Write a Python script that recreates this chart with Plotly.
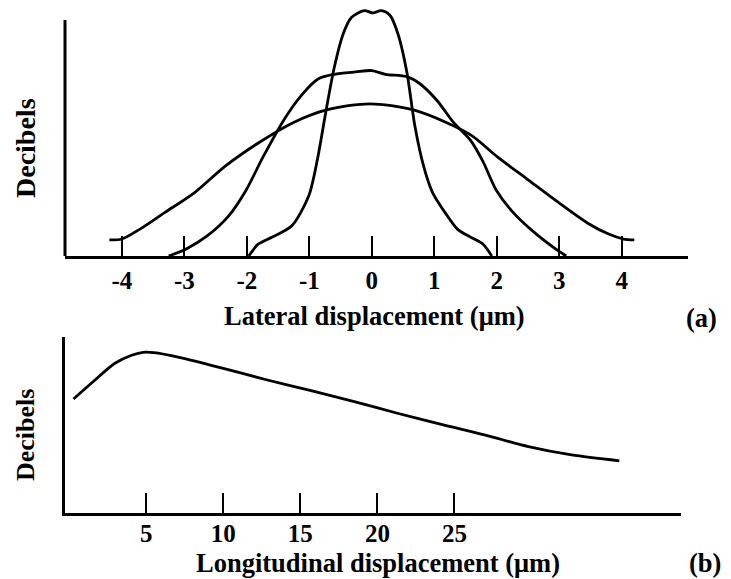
import plotly.graph_objects as go

W, H = 731, 579

# ---------------- data ----------------
lat_tickvals = [-4, -3, -2, -1, 0, 1, 2, 3, 4]
lat_ticktext = ["-4", "-3", "-2", "-1", "0", "1", "2", "3", "4"]

narrow_x = [-1.97, -1.9, -1.82, -1.55, -1.28, -1.01, -0.87, -0.73, -0.6, -0.46, -0.33,
            -0.12, 0.02, 0.15, 0.29, 0.42, 0.56, 0.69, 0.83, 0.97, 1.17, 1.37, 1.58, 1.78, 1.92]
narrow_y = [0.0, 0.025, 0.05, 0.086, 0.128, 0.254, 0.41, 0.62, 0.80, 0.94, 1.01,
            1.04, 1.03, 1.04, 1.02, 0.94, 0.78, 0.55, 0.38, 0.27, 0.185, 0.114, 0.08, 0.05, 0.0]

medium_x = [-3.25, -2.97, -2.63, -2.29, -2.01, -1.74, -1.40, -1.13, -0.86, -0.6, -0.26, 0.0,
            0.22, 0.56, 0.77, 1.04, 1.31, 1.58, 1.78, 1.99, 2.26, 2.6, 2.94, 3.11]
medium_y = [0.0, 0.03, 0.086, 0.17, 0.28, 0.42, 0.58, 0.68, 0.75, 0.77, 0.78, 0.786,
            0.77, 0.76, 0.73, 0.66, 0.565, 0.49, 0.40, 0.28, 0.185, 0.10, 0.03, 0.0]

wide_x = [-4.2, -4.0, -3.71, -3.31, -2.83, -2.35, -1.81, -1.26, -0.71, -0.03, 0.65, 1.2,
          1.6, 2.01, 2.49, 2.97, 3.45, 3.79, 4.03, 4.2]
wide_y = [0.068, 0.072, 0.114, 0.185, 0.27, 0.38, 0.48, 0.565, 0.62, 0.645, 0.62, 0.565,
          0.51, 0.42, 0.325, 0.23, 0.14, 0.093, 0.072, 0.068]

lon_tickvals = [5, 10, 15, 20, 25]
lon_x = [0.28, 1.55, 2.97, 4.1, 4.8, 5.5, 7.2, 10.0, 12.86, 15.7, 18.5, 21.3, 24.15,
         27.0, 29.8, 32.6, 35.7]
lon_y = [0.646, 0.744, 0.849, 0.896, 0.911, 0.909, 0.881, 0.82, 0.754, 0.693, 0.631,
         0.565, 0.502, 0.441, 0.375, 0.328, 0.295]

FONT = "Liberation Serif"
LINE = dict(color="black", width=2.8, shape="spline", smoothing=0.8)

fig = go.Figure()
for xs, ys in [(wide_x, wide_y), (medium_x, medium_y), (narrow_x, narrow_y)]:
    fig.add_trace(go.Scatter(x=xs, y=ys, mode="lines", line=LINE,
                             xaxis="x", yaxis="y", showlegend=False, hoverinfo="skip"))
fig.add_trace(go.Scatter(x=lon_x, y=lon_y, mode="lines", line=LINE,
                         xaxis="x2", yaxis="y2", showlegend=False, hoverinfo="skip"))

tickfont = dict(family=FONT, size=25, color="black", weight="bold")

fig.update_layout(
    width=W, height=H,
    margin=dict(l=0, r=0, t=0, b=0),
    paper_bgcolor="white", plot_bgcolor="white",
    xaxis=dict(domain=[65 / W, 688 / W], range=[-4.91, 5.06], anchor="y",
               showline=True, linewidth=3, linecolor="black",
               ticks="inside", ticklen=20, tickwidth=1.5, tickcolor="black",
               tickvals=lat_tickvals, ticktext=lat_ticktext, tickfont=tickfont,
               ticklabelstandoff=0,
               showgrid=False, zeroline=False, automargin=False),
    yaxis=dict(domain=[1 - 256 / H, 1 - 8 / H], range=[0, 1.051], anchor="x",
               showline=False, showticklabels=False, ticks="",
               showgrid=False, zeroline=False, automargin=False),
    xaxis2=dict(domain=[65 / W, 681 / W], range=[-0.27, 39.7], anchor="y2",
                showline=True, linewidth=3, linecolor="black",
                ticks="inside", ticklen=20, tickwidth=1.5, tickcolor="black",
                tickvals=lon_tickvals, tickfont=tickfont,
                ticklabelstandoff=-4,
                showgrid=False, zeroline=False, automargin=False),
    yaxis2=dict(domain=[1 - 512.7 / H, 1 - 336.7 / H], range=[0, 1], anchor="x2",
                showline=True, linewidth=3, linecolor="black",
                showticklabels=False, ticks="",
                showgrid=False, zeroline=False, automargin=False),
    shapes=[dict(type="line", xref="x domain", yref="y", x0=0, x1=0, y0=0, y1=1,
                 line=dict(color="black", width=3))],
)

title_font = dict(family=FONT, size=26.5, color="black", weight="bold")
annots = [
    dict(text="Lateral displacement (μm)", x=375 / W, y=1 - 316 / H),
    dict(text="(a)", x=701 / W, y=1 - 318 / H),
    dict(text="Longitudinal displacement (μm)", x=378 / W, y=1 - 563 / H),
    dict(text="(b)", x=705 / W, y=1 - 563 / H),
    dict(text="Decibels", x=25 / W, y=1 - 148 / H, textangle=-90,
         font=dict(family=FONT, size=28, color="black", weight="bold")),
    dict(text="Decibels", x=25 / W, y=1 - 435 / H, textangle=-90,
         font=dict(family=FONT, size=26, color="black", weight="bold")),
]
for a in annots:
    f = a.pop("font", title_font)
    fig.add_annotation(xref="paper", yref="paper", showarrow=False,
                       xanchor="center", yanchor="middle", font=f, **a)

fig.write_html("out.html")
